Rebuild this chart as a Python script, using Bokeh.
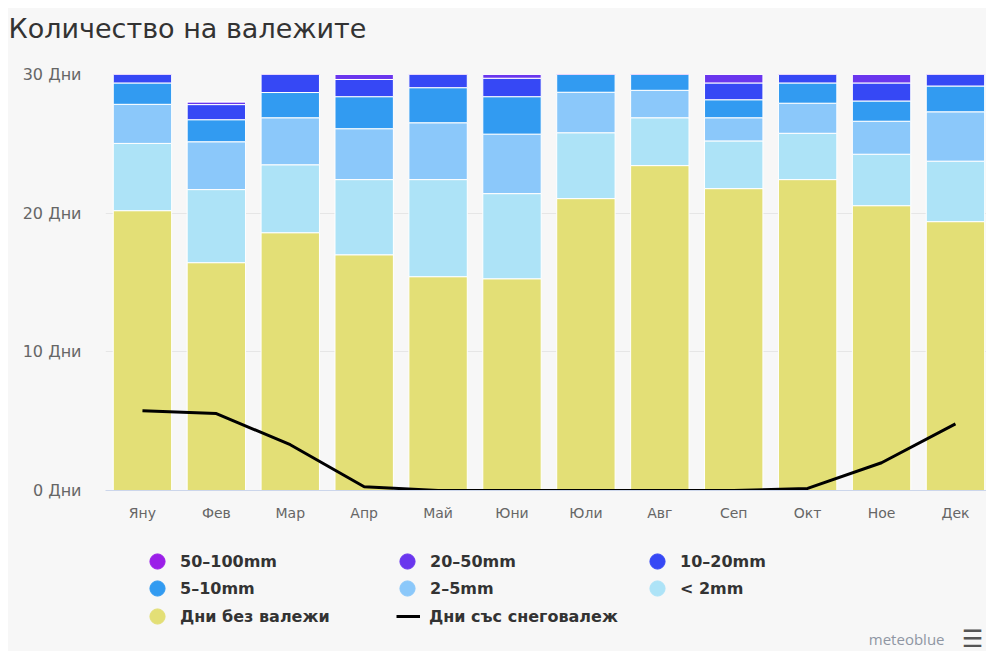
from bokeh.plotting import figure
from bokeh.layouts import column
from bokeh.models import (ColumnDataSource, Range1d, FixedTicker, Label, Legend, LegendItem, Title)
from bokeh.embed import file_html
from bokeh.resources import INLINE

# ---------------- data ----------------
title_text = "Количество на валежите"
months = ["Яну", "Фев", "Мар", "Апр", "Май", "Юни", "Юли", "Авг", "Сеп", "Окт", "Ное", "Дек"]
ytick_values = [0, 10, 20, 30]
ytick_labels = ["0 Дни", "10 Дни", "20 Дни", "30 Дни"]

dry = [20.18, 16.43, 18.59, 17.0, 15.42, 15.27, 21.05, 23.43, 21.77, 22.42, 20.54, 19.39]
lt2 = [4.85, 5.27, 4.9, 5.42, 7.0, 6.14, 4.75, 3.45, 3.44, 3.34, 3.71, 4.36]
mm2_5 = [2.82, 3.45, 3.39, 3.67, 4.1, 4.29, 2.92, 1.98, 1.67, 2.17, 2.38, 3.56]
mm5_10 = [1.54, 1.59, 1.82, 2.31, 2.53, 2.7, 1.7, 1.5, 1.3, 1.46, 1.46, 1.86]
mm10_20 = [1.61, 1.09, 2.3, 1.24, 1.95, 1.33, 0.5, 0.4, 1.21, 1.61, 1.3, 1.83]
mm20_50 = [0.0, 0.2, 0.0, 0.36, 0.0, 0.27, 0.08, 0.24, 0.61, 0.0, 0.61, 0.0]
mm50_100 = [0.0, 0.0, 0.0, 0.0, 0.0, 0.0, 0.0, 0.0, 0.0, 0.0, 0.0, 0.0]
snow = [5.76, 5.55, 3.3, 0.27, 0.0, 0.0, 0.0, 0.0, 0.0, 0.15, 2.0, 4.8]

series_names = ["Дни без валежи", "< 2mm", "2–5mm", "5–10mm", "10–20mm", "20–50mm", "50–100mm"]
series_keys = ["dry", "lt2", "mm2_5", "mm5_10", "mm10_20", "mm20_50", "mm50_100"]
series_colors = ["#E3DF76", "#ADE3F7", "#8BC8FA", "#329BF1", "#3648F5", "#6A36EE", "#9B1FE8"]
snow_name = "Дни със снеговалеж"
credit_text = "meteoblue"

BG = "#f7f7f7"
W = 978
NAN = float("nan")

def strip(h):
    f = figure(width=W, height=h, output_backend="svg", toolbar_location=None,
               x_range=Range1d(0, 1), y_range=Range1d(0, 1),
               x_axis_location=None, y_axis_location=None,
               min_border_left=97, min_border_right=0, min_border_top=0, min_border_bottom=0,
               background_fill_color=BG, border_fill_color=BG, outline_line_color=None)
    f.grid.visible = False
    return f

# ---------------- title strip ----------------
top = strip(54)
top.title = Title(text=title_text, align="left", offset=-97, standoff=4,
                  text_font="DejaVu Sans", text_font_size="27px", text_font_style="normal",
                  text_color="#333333")

# ---------------- main chart ----------------
idx = list(range(len(months)))
src = ColumnDataSource(dict(x=idx, dry=dry, lt2=lt2, mm2_5=mm2_5, mm5_10=mm5_10,
                            mm10_20=mm10_20, mm20_50=mm20_50, mm50_100=mm50_100, snow=snow))

p = figure(width=W, height=468, output_backend="svg", toolbar_location=None,
           x_range=Range1d(-0.5, len(months) - 0.58), y_range=Range1d(0, 30),
           min_border_left=97, min_border_right=0, min_border_top=12, min_border_bottom=40,
           background_fill_color=BG, border_fill_color=BG, outline_line_color=None)

p.vbar_stack(series_keys, x="x", width=0.79, source=src, color=series_colors,
             line_color="white", line_width=1)
p.line(x="x", y="snow", source=src, line_color="black", line_width=3)

p.xaxis.ticker = FixedTicker(ticks=idx)
p.xaxis.major_label_overrides = {i: m for i, m in enumerate(months)}
p.xaxis.axis_line_color = "#ccd6eb"
p.xaxis.major_tick_line_color = None
p.xaxis.minor_tick_line_color = None
p.xaxis.major_label_text_font = "DejaVu Sans"
p.xaxis.major_label_text_font_size = "14px"
p.xaxis.major_label_text_color = "#666666"
p.xaxis.major_label_standoff = 8

p.yaxis.ticker = FixedTicker(ticks=ytick_values)
p.yaxis.major_label_overrides = {v: l for v, l in zip(ytick_values, ytick_labels)}
p.yaxis.axis_line_color = None
p.yaxis.major_tick_line_color = None
p.yaxis.minor_tick_line_color = None
p.yaxis.major_label_text_font = "DejaVu Sans"
p.yaxis.major_label_text_font_size = "16px"
p.yaxis.major_label_text_color = "#666666"
p.yaxis.major_label_standoff = 18

p.xgrid.grid_line_color = None
p.ygrid.grid_line_color = "#e6e6e6"

# ---------------- legend strip ----------------
bot = strip(121)

dummies = {}
for k, c in zip(series_keys, series_colors):
    dummies[k] = bot.scatter(x=[NAN], y=[NAN], marker="circle", size=15, fill_color=c, line_color=c)
snow_dummy = bot.line(x=[NAN, NAN], y=[NAN, NAN], line_color="black", line_width=3)

def one_item(label, rend, loc, glyph_w=38, glyph_h=38, standoff=4):
    lg = Legend(items=[LegendItem(label=label, renderers=[rend])], location=loc,
                glyph_width=glyph_w, glyph_height=glyph_h, label_height=glyph_h,
                spacing=0, padding=0, margin=0, label_standoff=standoff,
                border_line_color=None, background_fill_alpha=0,
                label_text_font="DejaVu Sans", label_text_font_style="bold",
                label_text_font_size="16px", label_text_color="#333333")
    bot.add_layout(lg, "center")

col_x = [33, 283, 533]
row_y = [71, 44, 16]
grid = [["mm50_100", "mm20_50", "mm10_20"],
        ["mm5_10", "mm2_5", "lt2"],
        ["dry", None, None]]
for r, row in enumerate(grid):
    for c, k in enumerate(row):
        if k is not None:
            one_item(series_names[series_keys.index(k)], dummies[k], (col_x[c], row_y[r]))
one_item(snow_name, snow_dummy, (291, 25), glyph_w=24, glyph_h=20, standoff=9)

bot.add_layout(Label(x=839, y=13, x_units="screen", y_units="screen", text=credit_text,
                     text_font="Open Sans", text_font_size="15px", text_color="#8f96a3",
                     text_align="right", text_baseline="middle"))
bot.add_layout(Label(x=867, y=13, x_units="screen", y_units="screen", text="☰",
                     text_font="DejaVu Sans", text_font_size="24px", text_color="#555555",
                     text_align="center", text_baseline="middle"))

layout = column(top, p, bot, spacing=0, margin=(8, 0, 0, 8),
                styles={"background-color": BG})
open("out.html", "w").write(file_html(layout, INLINE))
